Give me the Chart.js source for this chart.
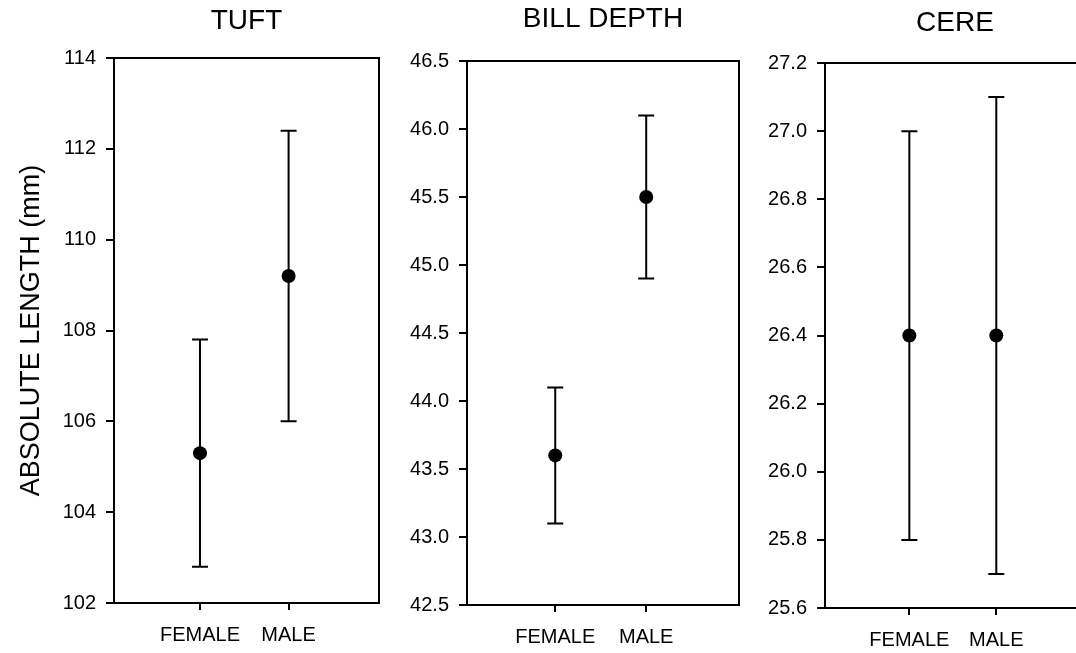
<!DOCTYPE html>
<html>
<head>
<meta charset="utf-8">
<script src="https://cdn.jsdelivr.net/npm/chart.js@4.4.1/dist/chart.umd.min.js"></script>
<style>
html, body { margin: 0; padding: 0; background: #fff; overflow: hidden; width: 1076px; height: 653px; position: relative; }
canvas { position: absolute; top: 0; }
</style>
</head>
<body>
<canvas id="tuftChart"></canvas>
<canvas id="billChart"></canvas>
<canvas id="cereChart"></canvas>
<script>
// categories
const sexes = ['FEMALE', 'MALE'];

// TUFT (mm)
const tuftMean = [105.3, 109.2];
const tuftLow = [102.8, 106.0];
const tuftHigh = [107.8, 112.4];
const tuftTicks = [102, 104, 106, 108, 110, 112, 114];

// BILL DEPTH (mm)
const billMean = [43.6, 45.5];
const billLow = [43.1, 44.9];
const billHigh = [44.1, 46.1];
const billTicks = [42.5, 43.0, 43.5, 44.0, 44.5, 45.0, 45.5, 46.0, 46.5];

// CERE (mm)
const cereMean = [26.4, 26.4];
const cereLow = [25.8, 25.7];
const cereHigh = [27.0, 27.1];
const cereTicks = [25.6, 25.8, 26.0, 26.2, 26.4, 26.6, 26.8, 27.0, 27.2];

const FONT = "'Liberation Sans', Arial, Helvetica, sans-serif";
const H = 653;

// draws the vertical error bars with caps, using the chart scales
const errorBarPlugin = {
    id: 'errorBars',
    beforeDatasetsDraw(chart, args, opts) {
        const ctx = chart.ctx;
        const xs = chart.scales.x, ys = chart.scales.y;
        ctx.save();
        ctx.strokeStyle = '#000';
        ctx.lineWidth = 2;
        opts.low.forEach((lo, i) => {
            const x = xs.getPixelForValue(i + 1);
            const y1 = ys.getPixelForValue(lo);
            const y2 = ys.getPixelForValue(opts.high[i]);
            ctx.beginPath();
            ctx.moveTo(x, y1); ctx.lineTo(x, y2);
            ctx.moveTo(x - 8, y1); ctx.lineTo(x + 8, y1);
            ctx.moveTo(x - 8, y2); ctx.lineTo(x + 8, y2);
            ctx.stroke();
        });
        ctx.restore();
    }
};

// box around the plot area
const framePlugin = {
    id: 'frame',
    afterDraw(chart) {
        const a = chart.chartArea, ctx = chart.ctx;
        ctx.save();
        ctx.strokeStyle = '#000';
        ctx.lineWidth = 2;
        ctx.strokeRect(a.left, a.top, a.right - a.left, a.bottom - a.top);
        ctx.restore();
    }
};

function makePanel(id, title, mean, low, high, ticks, decimals, layout) {
    const canvas = document.getElementById(id);
    canvas.width = layout.axisWidth + layout.plotWidth + 7;
    canvas.height = H;
    canvas.style.left = layout.left + 'px';
    const titleLine = 28 * 1.2;
    const padTop = layout.titleY - titleLine / 2;

    return new Chart(canvas, {
        type: 'scatter',
        data: {
            datasets: [{
                data: mean.map((m, i) => ({ x: i + 1, y: m })),
                pointRadius: 7,
                pointHoverRadius: 7,
                pointBackgroundColor: '#000',
                pointBorderWidth: 0,
                showLine: false
            }]
        },
        options: {
            responsive: false,
            animation: false,
            devicePixelRatio: 1,
            layout: { padding: { right: 2, left: 0, top: 0, bottom: 0 } },
            plugins: {
                legend: { display: false },
                tooltip: { enabled: false },
                title: {
                    display: true,
                    text: title,
                    fullSize: false,
                    color: '#000',
                    font: { family: FONT, size: 28, weight: 'normal', lineHeight: 1.2 },
                    padding: { top: padTop, bottom: layout.top - titleLine - padTop }
                },
                errorBars: { low: low, high: high }
            },
            scales: {
                x: {
                    type: 'linear',
                    min: 0.03,
                    max: 3.02,
                    afterBuildTicks: s => { s.ticks = sexes.map((_, i) => ({ value: i + 1 })); },
                    afterFit: s => { s.height = H - layout.bottom; },
                    ticks: {
                        callback: v => sexes[v - 1],
                        color: '#000',
                        font: { family: FONT, size: 20 },
                        padding: 13,
                        maxRotation: 0,
                        autoSkip: false
                    },
                    grid: { drawOnChartArea: false, drawTicks: true, tickLength: 7, color: '#000', lineWidth: 2 },
                    border: { display: true, color: '#000', width: 2 }
                },
                y: {
                    min: ticks[0],
                    max: ticks[ticks.length - 1],
                    afterBuildTicks: s => { s.ticks = ticks.map(v => ({ value: v })); },
                    afterFit: s => { s.width = layout.axisWidth; },
                    ticks: {
                        callback: v => Number(v).toFixed(decimals),
                        color: '#000',
                        font: { family: FONT, size: 20 },
                        padding: 10,
                        autoSkip: false
                    },
                    grid: { drawOnChartArea: false, drawTicks: true, tickLength: 8, color: '#000', lineWidth: 2 },
                    border: { display: true, color: '#000', width: 2 },
                    title: {
                        display: layout.yTitle,
                        text: 'ABSOLUTE LENGTH (mm)',
                        color: '#000',
                        font: { family: FONT, size: 27, weight: 'normal', lineHeight: 1.2 },
                        padding: { top: 15, bottom: 0 }
                    }
                }
            }
        },
        plugins: [errorBarPlugin, framePlugin]
    });
}

makePanel('tuftChart', 'TUFT', tuftMean, tuftLow, tuftHigh, tuftTicks, 0,
    { left: 0, axisWidth: 114, plotWidth: 265, top: 58, bottom: 603, titleY: 21, yTitle: true });
makePanel('billChart', 'BILL DEPTH', billMean, billLow, billHigh, billTicks, 1,
    { left: 395, axisWidth: 72, plotWidth: 272, top: 61, bottom: 605, titleY: 19, yTitle: false });
makePanel('cereChart', 'CERE', cereMean, cereLow, cereHigh, cereTicks, 1,
    { left: 752, axisWidth: 73, plotWidth: 260, top: 63, bottom: 608, titleY: 23, yTitle: false });
</script>
</body>
</html>
